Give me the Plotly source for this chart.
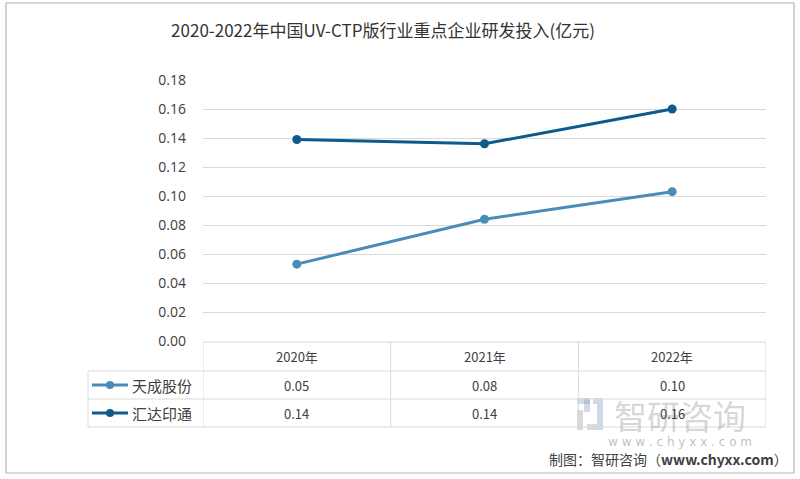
import plotly.graph_objects as go

categories = ["2020年", "2021年", "2022年"]
series_names = ["天成股份", "汇达印通"]
tiancheng = [0.053, 0.084, 0.103]
huida = [0.139, 0.136, 0.160]
series_values = [tiancheng, huida]
series_colors = ["#4A8CB8", "#0F5A8C"]
y_ticks = [0.00, 0.02, 0.04, 0.06, 0.08, 0.10, 0.12, 0.14, 0.16, 0.18]
title_text = "2020-2022年中国UV-CTP版行业重点企业研发投入(亿元)"

W, H = 800, 479
L, R, T, B = 203, 766, 80, 341


def px(xp):
    return (xp - L) / (R - L)


def py(yp):
    return (B - yp) / (B - T)


fig = go.Figure()
for name, vals, col in zip(series_names, series_values, series_colors):
    fig.add_trace(go.Scatter(
        x=categories, y=vals, name=name, mode="lines+markers",
        line=dict(color=col, width=3), marker=dict(color=col, size=9),
        showlegend=False, hoverinfo="skip"))

shapes = []
annotations = []
grid_col = "#D9D9D9"

row_tops = [342, 371, 399, 427]
n = len(categories)
for i, yp in enumerate(row_tops):
    shapes.append(dict(type="line", xref="x", yref="paper", x0=-0.5, x1=n - 0.5,
                       y0=py(yp), y1=py(yp), line=dict(color=grid_col, width=1)))
    if i >= 1:
        shapes.append(dict(type="line", xref="paper", yref="paper", x0=px(88), x1=px(203),
                           y0=py(yp), y1=py(yp), line=dict(color=grid_col, width=1)))
for k in range(n + 1):
    shapes.append(dict(type="line", xref="x", yref="paper", x0=k - 0.5, x1=k - 0.5,
                       y0=py(row_tops[0]), y1=py(row_tops[-1]), line=dict(color=grid_col, width=1)))
shapes.append(dict(type="line", xref="paper", yref="paper", x0=px(88), x1=px(88),
                   y0=py(row_tops[1]), y1=py(row_tops[-1]), line=dict(color=grid_col, width=1)))

# watermark first (drawn below other texts)
annotations.append(dict(x=px(612), y=py(415), xref="paper", yref="paper", xanchor="left", yanchor="middle",
                        text="智研咨询", showarrow=False,
                        font=dict(size=33, color="rgba(150,150,150,0.40)", family="Noto Sans CJK SC")))

txt_col = "#404040"
for k, c in enumerate(categories):
    annotations.append(dict(x=k, y=py((row_tops[0] + row_tops[1]) / 2), xref="x", yref="paper",
                            xanchor="center", yanchor="middle",
                            text=c, showarrow=False, font=dict(size=13, color=txt_col)))
for r, (name, vals, col) in enumerate(zip(series_names, series_values, series_colors)):
    ymid = (row_tops[r + 1] + row_tops[r + 2]) / 2
    for k, v in enumerate(vals):
        annotations.append(dict(x=k, y=py(ymid), xref="x", yref="paper", xanchor="center", yanchor="middle",
                                text=f"{v:.2f}", showarrow=False, font=dict(size=13, color=txt_col)))
    shapes.append(dict(type="line", xref="paper", yref="paper", x0=px(92), x1=px(128),
                       y0=py(ymid), y1=py(ymid), line=dict(color=col, width=3)))
    shapes.append(dict(type="circle", xref="paper", yref="paper", x0=px(106), x1=px(114),
                       y0=py(ymid + 4), y1=py(ymid - 4), fillcolor=col, line=dict(color=col, width=0)))
    annotations.append(dict(x=px(130), y=py(ymid), xref="paper", yref="paper", xanchor="left", yanchor="middle",
                            text=name, showarrow=False,
                            font=dict(size=15, color=txt_col, family="Noto Sans CJK SC")))

shapes.append(dict(type="rect", xref="paper", yref="paper", x0=px(6), x1=px(794),
                   y0=py(473), y1=py(3), line=dict(color="#B4B4B4", width=1.2)))

wm = "rgba(120,150,185,0.35)"
wm2 = "rgba(150,150,150,0.35)"
shapes += [
    dict(type="rect", xref="paper", yref="paper", x0=px(577), x1=px(590), y0=py(404), y1=py(398), fillcolor=wm, line=dict(width=0), layer="below"),
    dict(type="rect", xref="paper", yref="paper", x0=px(584), x1=px(590), y0=py(412), y1=py(398), fillcolor=wm, line=dict(width=0), layer="below"),
    dict(type="rect", xref="paper", yref="paper", x0=px(577), x1=px(583), y0=py(430), y1=py(410), fillcolor=wm2, line=dict(width=0), layer="below"),
    dict(type="rect", xref="paper", yref="paper", x0=px(593), x1=px(603), y0=py(404), y1=py(398), fillcolor=wm, line=dict(width=0), layer="below"),
    dict(type="rect", xref="paper", yref="paper", x0=px(597), x1=px(603), y0=py(430), y1=py(404), fillcolor=wm, line=dict(width=0), layer="below"),
    dict(type="rect", xref="paper", yref="paper", x0=px(587), x1=px(597), y0=py(430), y1=py(424), fillcolor=wm2, line=dict(width=0), layer="below"),
]
annotations.append(dict(x=px(680), y=py(442), xref="paper", yref="paper", xanchor="center", yanchor="middle",
                        text="w w w . c h y x x . c o m", showarrow=False,
                        font=dict(size=12, color="rgba(150,150,150,0.6)", family="DejaVu Sans")))
annotations.append(dict(x=px(790), y=py(459), xref="paper", yref="paper", xanchor="right", yanchor="middle",
                        text="制图：智研咨询（<b>www.chyxx.com</b>）", showarrow=False,
                        font=dict(size=14, color="#404040", family="Noto Sans CJK SC")))

fig.update_layout(
    width=W, height=H,
    margin=dict(l=L, r=W - R, t=T, b=H - B, pad=0),
    paper_bgcolor="white", plot_bgcolor="white",
    title=dict(text=title_text, x=383 / W, xanchor="center", y=1 - 31 / H, yanchor="middle",
               font=dict(size=17, color="#333333", family="Noto Sans CJK SC")),
    xaxis=dict(range=[-0.5, n - 0.5], showticklabels=False, showgrid=False, zeroline=False,
               showline=False, fixedrange=True),
    yaxis=dict(range=[0, 0.18], tickvals=y_ticks, ticktext=[f"{t:.2f}" for t in y_ticks],
               showgrid=True, gridcolor=grid_col, gridwidth=1, zeroline=False, showline=False,
               ticks="", ticklabelstandoff=16, tickfont=dict(size=14, color="#404040", family="Open Sans")),
    shapes=shapes, annotations=annotations,
    font=dict(family="Noto Sans CJK SC"),
)

fig.write_html("out.html", config={"displayModeBar": False},
               post_script="document.body.style.margin='0';document.body.style.padding='0';document.body.style.overflow='hidden';")
